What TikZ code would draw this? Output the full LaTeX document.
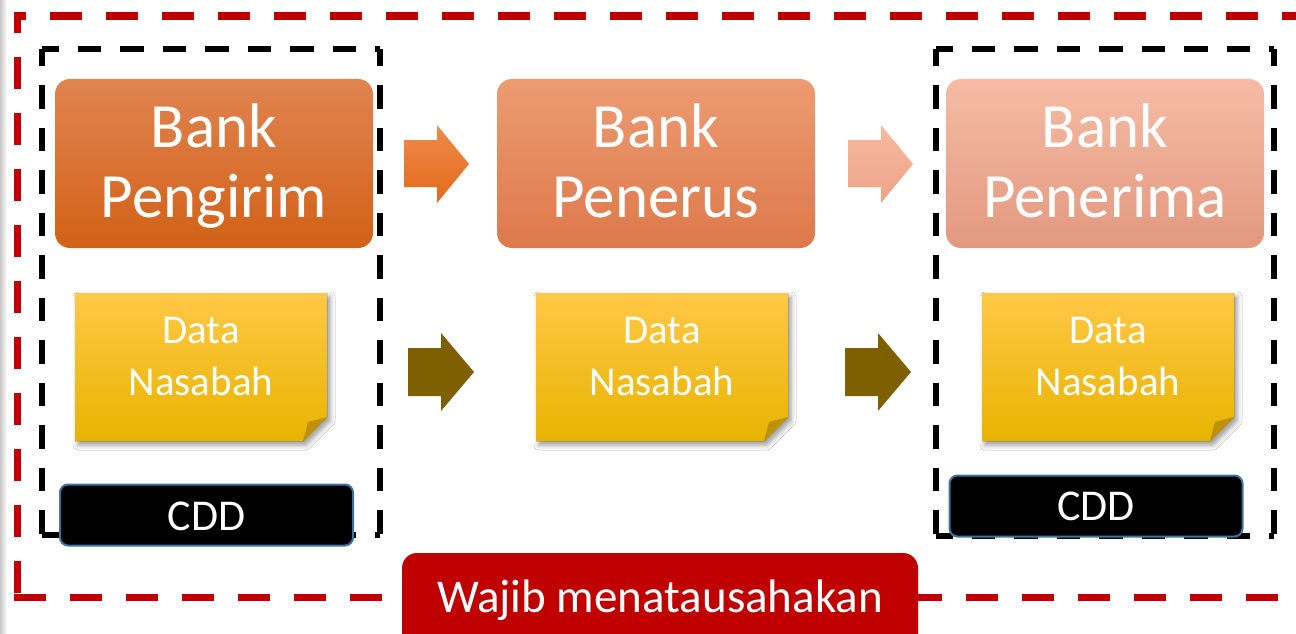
\documentclass[tikz,border=0pt]{standalone}
\usepackage{fontspec}
\setmainfont{Carlito}
\usetikzlibrary{shadows.blur}

\definecolor{frame}{HTML}{C00000}
\definecolor{cddline}{HTML}{41719C}
\definecolor{brownarrow}{HTML}{7F6000}
\definecolor{foldcol}{HTML}{BF9000}

\tikzset{
  redside/.style={draw=frame, line width=7.5pt, dash pattern=on 32pt off 24pt},
  blackside/.style={draw=black, line width=6pt, dash pattern=on 23.5pt off 19pt, dash phase=6.5pt},
  bankbox/.style={rounded corners=15pt, inner sep=0pt, minimum width=318pt, minimum height=169pt},
  banktext/.style={text=white, inner sep=0pt, anchor=base, font=\fontsize{63}{70}\selectfont},
  notetext/.style={text=white, inner sep=0pt, anchor=base, font=\fontsize{41}{50}\selectfont},
  cddbox/.style={fill=black, draw=cddline, line width=2pt, rounded corners=8pt, inner sep=0pt,
                 minimum width=293pt, minimum height=61pt},
  cddtext/.style={text=white, inner sep=0pt, anchor=base, font=\fontsize{44}{50}\selectfont},
  notefill/.style={top color={rgb,255:red,255;green,200;blue,70}, middle color={rgb,255:red,255;green,199;blue,0},
                   bottom color={rgb,255:red,232;green,180;blue,0}},
  noteshadow/.style={blur shadow={shadow xshift=3pt, shadow yshift=-4pt, shadow blur radius=5pt, shadow opacity=40}},
}

\begin{document}
\begin{tikzpicture}[x=1pt,y=-1pt]
\useasboundingbox (0,0) rectangle (1296,634);
\clip (0,0) rectangle (1296,634);
\fill[white] (0,0) rectangle (1296,634);

% slide edge
\shade[left color=black!22, right color=white] (0,0) rectangle (7,634);

% outer red frame, one side at a time
\coordinate (rTL) at (17.5,16);
\coordinate (rBL) at (17.5,597.5);
\coordinate (rTR) at (1320,16);
\coordinate (rBR) at (1320,597.5);
\draw[redside, dash phase=20pt] ([xshift=-3.75pt]rTL) -- (rTR);
\draw[redside, dash phase=11pt] ([yshift=3.75pt]rTL) -- (rBL);
\draw[redside] ([xshift=-3.75pt]rBL) -- (rBR);

% black dashed groups
\coordinate (lTL) at (41.5,49);
\coordinate (lTR) at (380,49);
\coordinate (lBL) at (41.5,535);
\coordinate (lBR) at (380,535);
\draw[blackside] (lTL) -- (lTR);
\draw[blackside] (lTL) -- (lBL);
\draw[blackside] (lTR) -- (lBR);
\draw[blackside] (lBL) -- (lBR);

\coordinate (gTL) at (935.5,49);
\coordinate (gTR) at (1274,49);
\coordinate (gBL) at (935.5,536);
\coordinate (gBR) at (1274,536);
\draw[blackside] (gTL) -- (gTR);
\draw[blackside] (gTL) -- (gBL);
\draw[blackside] (gTR) -- (gBR);
\draw[blackside] (gBL) -- (gBR);

% bank boxes
\node[bankbox, top color={rgb,255:red,224;green,132;blue,81}, bottom color={rgb,255:red,210;green,97;blue,22}]
  (pengirim) at (214,163.5) {};
\node[banktext] (pengirimA) at (214,147) {Bank};
\node[banktext] (pengirimB) at (214,217) {Pengirim};

\node[bankbox, top color={rgb,255:red,237;green,155;blue,114}, bottom color={rgb,255:red,221;green,121;blue,75}]
  (penerus) at (656,163.5) {};
\node[banktext] (penerusA) at (656,147) {Bank};
\node[banktext] (penerusB) at (656,217) {Penerus};

\node[bankbox, top color={rgb,255:red,246;green,187;blue,165}, bottom color={rgb,255:red,226;green,153;blue,127}]
  (penerima) at (1105,163.5) {};
\node[banktext] (penerimaA) at (1105,147) {Bank};
\node[banktext] (penerimaB) at (1105,217) {Penerima};

% block arrows between banks
\shade[top color={rgb,255:red,237;green,139;blue,75}, bottom color={rgb,255:red,228;green,105;blue,26}]
  (404,140) -- (437,140) -- (437,125) -- (469,164) -- (437,203) -- (437,187) -- (404,187) -- cycle;
\shade[top color={rgb,255:red,246;green,185;blue,162}, bottom color={rgb,255:red,238;green,163;blue,133}]
  (848,140) -- (881,140) -- (881,125) -- (913,164) -- (881,203) -- (881,187) -- (848,187) -- cycle;

% customer data notes
\foreach \cx/\nm in {201/noteA, 662/noteB, 1108/noteC}{
  \fill[notefill, noteshadow]
    (\cx-126,293) -- (\cx+126,293) -- (\cx+126,417) -- (\cx+102,441) -- (\cx-126,441) -- cycle;
  \fill[foldcol] (\cx+126,417) -- (\cx+102,441) -- (\cx+107,422) -- cycle;
  \node[notetext] (\nm A) at (\cx,343) {Data};
  \node[notetext] (\nm B) at (\cx,395) {Nasabah};
}

% block arrows between notes
\fill[brownarrow] (408,348) -- (441,348) -- (441,333) -- (474,372) -- (441,411) -- (441,396) -- (408,396) -- cycle;
\fill[brownarrow] (845,348) -- (878,348) -- (878,333) -- (911,372) -- (878,411) -- (878,396) -- (845,396) -- cycle;

% CDD labels
\node[cddbox] (cddA) at (206.5,515) {};
\node[cddtext] (cddAtext) at (206.5,530) {CDD};
\node[cddbox] (cddB) at (1096,506) {};
\node[cddtext] (cddBtext) at (1096,520) {CDD};

% obligation label on the frame
\node[fill=frame, rounded corners=15pt, inner sep=0pt, minimum width=516pt, minimum height=100pt]
  (wajib) at (660,603) {};
\node[text=white, inner sep=0pt, anchor=base, font=\fontsize{47}{54}\selectfont]
  (wajibtext) at (660,612) {Wajib menatausahakan};
\end{tikzpicture}
\end{document}
